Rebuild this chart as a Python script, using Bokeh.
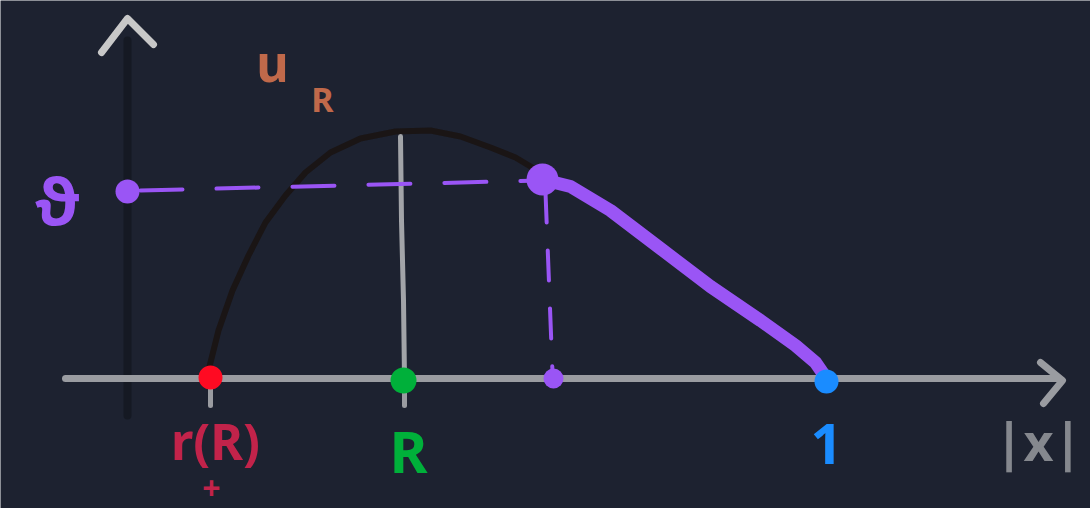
from bokeh.plotting import figure
from bokeh.models import Range1d
from bokeh.embed import file_html
from bokeh.resources import INLINE
from bokeh.core.properties import value

# Sketch coordinates (x to the right, y downward)
BG = "#1d2230"

# axes
yaxis_x = [127, 127]
yaxis_y = [415, 40]
yarrow_x = [101, 127, 153]
yarrow_y = [52, 18, 44]
xaxis_x = [65, 1058]
xaxis_y = [378, 378]
xarrow_x = [1040, 1062, 1043]
xarrow_y = [362, 380, 403]

# ticks under the |x| axis
tick_x = [210, 404]
tick_top = [378, 378]
tick_bottom = [405, 405]

# u_R profile
u_x = [208, 218, 232, 248, 265, 285, 305, 330, 360, 395, 430, 460, 490, 515, 540]
u_y = [370, 330, 290, 255, 222, 195, 172, 152, 138, 131, 130, 136, 147, 157, 172]

# vertical line at R
rline_x = [400, 401, 403, 404]
rline_y = [136, 220, 300, 378]

# level theta
theta_x = [140, 540]
theta_y = [190, 180]
drop_x = [545, 552]
drop_y = [192, 372]

# decreasing branch from the level point to 1
v_x = [542, 570, 610, 660, 710, 760, 795, 815, 826]
v_y = [179, 186, 210, 248, 286, 320, 345, 362, 378]

# marked points
pts_x = [127, 542, 553, 210, 403, 826]
pts_y = [191, 179, 378, 377, 380, 381]
pts_size = [24, 32, 20, 24, 26, 24]
pts_color = ["#9a55f5", "#9a55f5", "#9a55f5", "#ff0a22", "#00b03a", "#1a8cff"]

# labels
lab_text = ["u", "R", "ϑ", "r(R)", "+", "R", "1", "|x|"]
lab_x = [272, 322, 57, 215, 211, 408, 826, 1038]
lab_y = [62, 98, 200, 440, 488, 450, 443, 440]
lab_size = ["50px", "34px", "64px", "50px", "32px", "58px", "56px", "52px"]
lab_color = ["#c0694a", "#c0694a", "#9a55f5", "#c2234a", "#c2234a", "#00b03a", "#1a8cff", "#85888e"]

p = figure(width=1090, height=508, x_range=Range1d(0, 1090), y_range=Range1d(508, 0),
           output_backend="svg", toolbar_location=None, min_border=0)
p.axis.visible = False
p.grid.visible = False
p.outline_line_color = None
p.background_fill_color = BG
p.border_fill_color = BG

p.line(yaxis_x, yaxis_y, line_color="#151923", line_width=8, line_cap="round")
p.line(yarrow_x, yarrow_y, line_color="#c8c8c8", line_width=7, line_cap="round", line_join="round")
p.line(xaxis_x, xaxis_y, line_color="#9a9ca1", line_width=7, line_cap="round")
p.line(xarrow_x, xarrow_y, line_color="#9a9ca1", line_width=7, line_cap="round", line_join="round")
p.segment(x0=tick_x, y0=tick_top, x1=tick_x, y1=tick_bottom, line_color="#9a9ca1",
          line_width=5, line_cap="round")

p.line(u_x, u_y, line_color="#1a1515", line_width=6, line_cap="round", line_join="round")
p.line(rline_x, rline_y, line_color="#a2a4a8", line_width=5, line_cap="round")

p.line(theta_x, theta_y, line_color="#9a55f5", line_width=4, line_dash="42 34", line_cap="round")
p.line(drop_x, drop_y, line_color="#9a55f5", line_width=4, line_dash="30 28", line_cap="round")
p.line(v_x, v_y, line_color="#9a55f5", line_width=13, line_cap="round", line_join="round")

p.scatter(pts_x, pts_y, size=pts_size, color=pts_color, line_color=None)

for t, x, y, s, c in zip(lab_text, lab_x, lab_y, lab_size, lab_color):
    p.text(x=[x], y=[y], text=[t], text_font=value("Noto Sans"), text_font_size=s,
           text_font_style="bold", text_align="center", text_baseline="middle",
           text_color=c)

open("out.html", "w").write(file_html(p, INLINE))
